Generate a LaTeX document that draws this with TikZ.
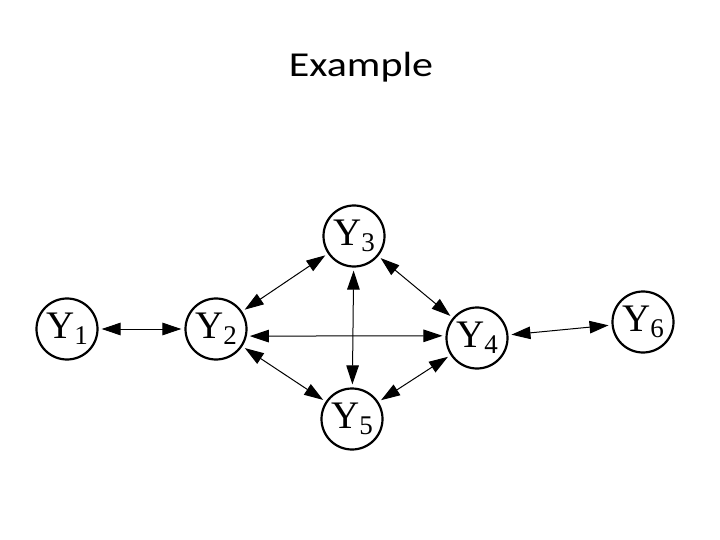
\documentclass[tikz,border=0pt]{standalone}
\usepackage{fontspec}
\setmainfont{Liberation Serif}
\newfontfamily\titlefont{Carlito}
\usetikzlibrary{arrows.meta}
\newcommand{\yv}[1]{Y\raisebox{-6bp}{\fontsize{27bp}{27bp}\selectfont #1}}
\tikzset{
  var/.style={circle, draw, line width=2.2bp, minimum size=61bp, inner sep=0pt,
    font=\fontsize{39bp}{40bp}\selectfont},
  link/.style={line width=1bp, {Triangle[length=19bp,width=12.5bp]}-{Triangle[length=19bp,width=12.5bp]},
    shorten <=3bp, shorten >=3bp}
}
\begin{document}
\begin{tikzpicture}[x=1bp,y=-1bp]
\useasboundingbox (0,0) rectangle (720,540);
\node[font=\titlefont\fontsize{35bp}{40bp}\selectfont, anchor=base, xscale=1.2] (title) at (361,77) {Example};
\node[var] (Y1) at (67,329) {\yv{1}};
\node[var] (Y2) at (216,329) {\yv{2}};
\node[var] (Y3) at (354,236) {\yv{3}};
\node[var] (Y4) at (477,338) {\yv{4}};
\node[var] (Y5) at (352,419) {\yv{5}};
\node[var] (Y6) at (643,322) {\yv{6}};
\draw[link] (Y1) -- (Y2);
\draw[link] (Y2) -- (Y3);
\draw[link] (Y2.-13) -- (Y4.176);
\draw[link] (Y2) -- (Y5);
\draw[link] (Y3) -- (Y4);
\draw[link] (Y3) -- (Y5);
\draw[link] (Y5) -- (Y4);
\draw[link] (Y4) -- (Y6);
\end{tikzpicture}
\end{document}
